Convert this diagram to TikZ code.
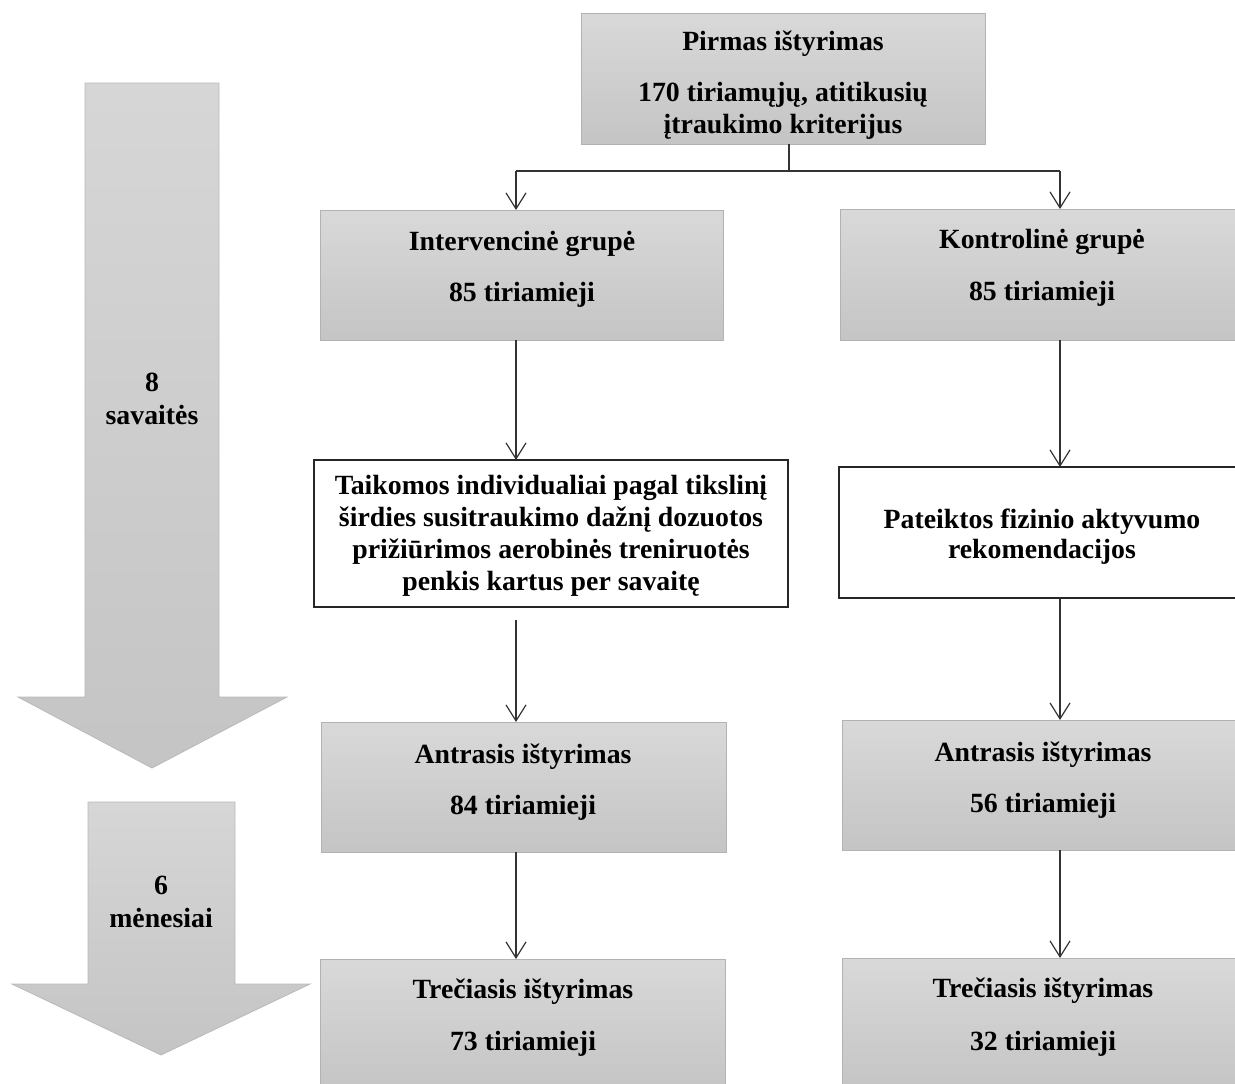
\documentclass[tikz,border=0pt]{standalone}
\usepackage{fontspec}
\setmainfont{Liberation Serif}
\usetikzlibrary{arrows.meta}
\tikzset{
  graybox/.style={draw=gray!60, line width=0.9pt, top color=gray!30, bottom color=gray!46, inner sep=0pt, outer sep=0pt},
  whitebox/.style={draw=black!85, line width=1.3pt, fill=white, inner sep=0pt, outer sep=0pt},
  txt/.style={font=\fontsize{27.8}{32}\selectfont\bfseries, anchor=base, inner sep=0pt, text=black},
  arr/.style={draw=black!80, line width=1.2pt, -{Straight Barb[length=16pt,width=20pt,line width=1.2pt]}},
  ln/.style={draw=black!80, line width=1.2pt},
  bigarrow/.style={top color=gray!32, bottom color=gray!46, draw=gray!55, line width=0.8pt}
}
\begin{document}
\begin{tikzpicture}[x=1pt,y=-1pt]
\useasboundingbox (0,0) rectangle (1235,1084);
\clip (0,0) rectangle (1235,1084);

% big timeline arrows
\shade[bigarrow] (85,83) -- (219,83) -- (219,697) -- (287,697) -- (152,768) -- (18,697) -- (85,697) -- cycle;
\shade[bigarrow] (88,802) -- (235,802) -- (235,984) -- (310,984) -- (161,1055) -- (12,984) -- (88,984) -- cycle;
\node[txt] (w8) at (152,391) {8};
\node[txt] (w8b) at (152,424) {savaitės};
\node[txt] (m6) at (161,894) {6};
\node[txt] (m6b) at (161,927) {mėnesiai};

% boxes
\node[graybox, minimum width=404pt, minimum height=131pt] (top) at (783,78.5) {};
\node[graybox, minimum width=403pt, minimum height=130pt] (int) at (521.5,275) {};
\node[graybox, minimum width=403pt, minimum height=131pt] (kon) at (1041.5,274.5) {};
\node[whitebox, minimum width=474pt, minimum height=147pt] (taik) at (551,533.5) {};
\node[whitebox, minimum width=404pt, minimum height=131pt] (pat) at (1041,532.5) {};
\node[graybox, minimum width=405pt, minimum height=130pt] (antL) at (523.5,787) {};
\node[graybox, minimum width=401pt, minimum height=130pt] (antR) at (1042.5,785) {};
\node[graybox, minimum width=405pt, minimum height=132pt] (treL) at (522.5,1025) {};
\node[graybox, minimum width=401pt, minimum height=132pt] (treR) at (1042.5,1024) {};

% texts
\node[txt] (t1) at (783,50) {Pirmas ištyrimas};
\node[txt] (t2) at (783,101) {170 tiriamųjų, atitikusių};
\node[txt] (t3) at (783,133) {įtraukimo kriterijus};

\node[txt] (i1) at (522,250) {Intervencinė grupė};
\node[txt] (i2) at (522,301) {85 tiriamieji};
\node[txt] (k1) at (1042,248) {Kontrolinė grupė};
\node[txt] (k2) at (1042,300) {85 tiriamieji};

\node[txt] (a1) at (551,494) {Taikomos individualiai pagal tikslinį};
\node[txt] (a2) at (551,526) {širdies susitraukimo dažnį dozuotos};
\node[txt] (a3) at (551,558) {prižiūrimos aerobinės treniruotės};
\node[txt] (a4) at (551,590) {penkis kartus per savaitę};

\node[txt] (p1) at (1042,528) {Pateiktos fizinio aktyvumo};
\node[txt] (p2) at (1042,558) {rekomendacijos};

\node[txt] (l1) at (523,763) {Antrasis ištyrimas};
\node[txt] (l2) at (523,814) {84 tiriamieji};
\node[txt] (r1) at (1043,761) {Antrasis ištyrimas};
\node[txt] (r2) at (1043,812) {56 tiriamieji};

\node[txt] (l3) at (523,998) {Trečiasis ištyrimas};
\node[txt] (l4) at (523,1050) {73 tiriamieji};
\node[txt] (r3) at (1043,997) {Trečiasis ištyrimas};
\node[txt] (r4) at (1043,1050) {32 tiriamieji};

% connectors
\coordinate (j) at (789,171);
\coordinate (jl) at (516,171);
\coordinate (jr) at (1060,171);
\draw[ln] (top.south -| j) -- (j);
\draw[ln] (jl) -- (jr);
\draw[arr] (jl) -- (int.north -| jl);
\draw[arr] (jr) -- (kon.north -| jr);

\draw[arr] (int.south -| jl) -- (taik.north -| jl);
\draw[arr, shorten <=13pt] (taik.south -| jl) -- (antL.north -| jl);
\draw[arr] (antL.south -| jl) -- (treL.north -| jl);

\draw[arr] (kon.south -| jr) -- (pat.north -| jr);
\draw[arr] (pat.south -| jr) -- (antR.north -| jr);
\draw[arr] (antR.south -| jr) -- (treR.north -| jr);
\end{tikzpicture}
\end{document}
